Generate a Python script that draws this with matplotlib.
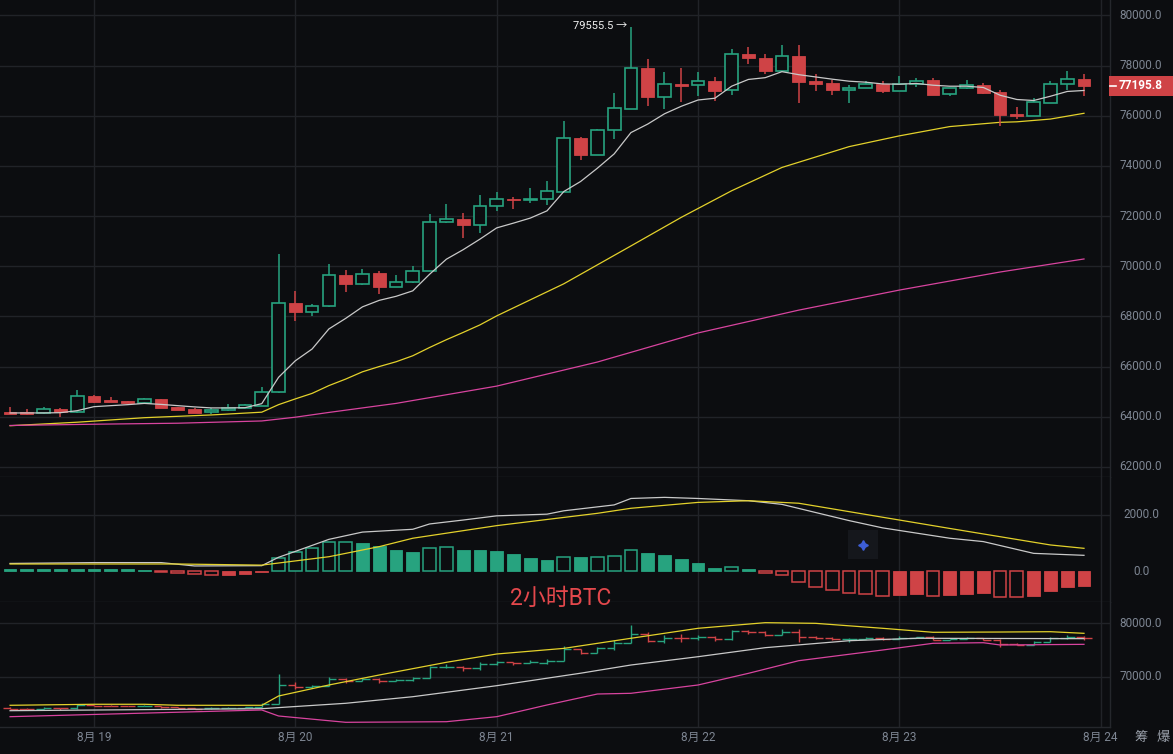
import numpy as np
import matplotlib
matplotlib.use('Agg')
import matplotlib.pyplot as plt
from matplotlib.patches import Rectangle
from matplotlib.transforms import blended_transform_factory

plt.rcParams['font.family'] = ['Roboto', 'Noto Sans CJK SC', 'DejaVu Sans']

# 2h candles, first one 8/18 14:00, last one 8/23 22:00
opens = [64170, 64150, 64130, 64300, 64170, 64820, 64660, 64620, 64560, 64700,
         64390, 64300, 64170, 64250, 64350, 64440, 64970, 68520, 68160, 68400,
         69670, 69300, 69720, 69190, 69390, 69830, 71780, 71900, 71660, 72410,
         72690, 72630, 72680, 72980, 75120, 74450, 75430, 76290, 77900, 76740,
         77270, 77210, 77390, 77010, 78480, 78320, 77770, 78400, 77370, 77300,
         77030, 77110, 77280, 76990, 77280, 77420, 76850, 77090, 77220, 76930,
         76070, 76000, 76530, 77280, 77480]
highs = [64400, 64300, 64370, 64330, 65060, 64880, 64790, 64640, 64760, 64720,
         64400, 64330, 64360, 64500, 64500, 65180, 70490, 69000, 68490, 70070,
         69840, 69880, 69810, 69670, 69990, 72100, 72500, 72110, 72860, 72970,
         72780, 73120, 73390, 75800, 75150, 75490, 76910, 79555.5, 78270, 77750,
         77900, 77750, 77560, 78660, 78760, 78480, 78840, 78820, 77680, 77420,
         77220, 77390, 77390, 77590, 77500, 77520, 77120, 77430, 77300, 77040,
         76370, 76690, 77400, 77780, 77660]
lows = [64100, 64080, 64100, 63980, 64150, 64560, 64580, 64540, 64540, 64350,
        64250, 64140, 64120, 64230, 64330, 64420, 64950, 67830, 68020, 68380,
        68980, 69260, 68900, 69180, 69350, 69800, 71720, 71130, 71340, 72190,
        72290, 72520, 72460, 72970, 74230, 74440, 75090, 76270, 76400, 76260,
        76560, 76790, 76610, 76840, 78050, 77650, 77750, 76520, 76980, 76840,
        76510, 77090, 76900, 76980, 77140, 76820, 76790, 77060, 76850, 75600,
        75870, 75990, 76500, 77010, 76770]
closes = [64130, 64120, 64300, 64170, 64810, 64580, 64600, 64560, 64700, 64360,
          64280, 64160, 64250, 64350, 64450, 64970, 68520, 68160, 68400, 69670,
          69300, 69710, 69180, 69390, 69830, 71780, 71900, 71640, 72410, 72690,
          72630, 72690, 73000, 75110, 74450, 75430, 76300, 77900, 76730, 77270,
          77210, 77390, 77000, 78460, 78300, 77770, 78380, 77340, 77270, 77020,
          77100, 77280, 76990, 77280, 77400, 76840, 77090, 77220, 76910, 76020,
          75990, 76550, 77280, 77480, 77195.8]

# moving averages
ma7 = [64150, 64150, 64150, 64160, 64240, 64400, 64440, 64480, 64530, 64490,
       64440, 64390, 64350, 64350, 64360, 64520, 65570, 66230, 66700, 67500,
       67920, 68380, 68640, 68800, 69020, 69680, 70280, 70660, 71080, 71530,
       71720, 71920, 72210, 72980, 73380, 73910, 74480, 75330, 75670, 76080,
       76380, 76630, 76700, 77180, 77450, 77520, 77760, 77640, 77550, 77460,
       77380, 77340, 77270, 77260, 77290, 77220, 77180, 77180, 77130, 76820,
       76650, 76610, 76780, 76970, 77010]
ma25_idx = [0, 4, 8, 12, 15, 16, 17, 18, 19, 20, 21, 22, 23, 24, 25, 26, 27, 28,
            29, 33, 37, 40, 43, 46, 50, 53, 56, 59, 60, 62, 64]
ma25_val = [63640, 63780, 63960, 64070, 64180, 64480, 64710, 64930, 65240, 65500,
            65790, 66000, 66190, 66430, 66760, 67070, 67360, 67660, 68020, 69300,
            70810, 71950, 73010, 73940, 74770, 75200, 75570, 75740, 75760, 75870,
            76100]
ma99_idx = [0, 5, 10, 15, 17, 19, 23, 29, 35, 41, 47, 53, 59, 64]
ma99_val = [63650, 63700, 63740, 63830, 63980, 64170, 64530, 65220, 66180, 67340,
            68250, 69050, 69770, 70290]

# MACD
hist = [60, 60, 60, 60, 60, 60, 60, 60, 50, -30,
        -70, -100, -140, -140, -110, -40, 450, 690, 810, 1020,
        1030, 1010, 890, 750, 670, 810, 850, 750, 740, 710,
        600, 460, 390, 510, 490, 510, 550, 750, 630, 560,
        430, 270, 110, 130, 70, -80, -150, -390, -560, -680,
        -800, -830, -880, -870, -830, -880, -870, -810, -800, -920,
        -940, -880, -700, -560, -520]
dif_idx = [0, 5, 9, 11, 15, 16, 17, 19, 21, 24, 25, 27, 29, 32, 33, 36, 37, 39,
           41, 44, 46, 50, 52, 56, 58, 61, 64]
dif_val = [270, 300, 300, 180, 190, 490, 700, 1130, 1390, 1490, 1680, 1820, 1970,
           2030, 2150, 2360, 2590, 2630, 2590, 2510, 2380, 1800, 1540, 1170, 1050,
           630, 560]
dea_idx = [0, 10, 15, 19, 22, 24, 29, 35, 37, 41, 44, 47, 53, 56, 62, 64]
dea_val = [250, 250, 210, 510, 870, 1170, 1620, 2060, 2240, 2450, 2510, 2420,
           1820, 1520, 930, 810]

# lower panel bands
up_idx = [0, 5, 8, 10, 15, 16, 19, 22, 26, 29, 33, 37, 41, 45, 48, 52, 55, 59, 62, 64]
up_val = [64760, 64950, 64950, 64760, 64760, 66480, 68520, 70370, 72720, 74260,
          75300, 77170, 79020, 80060, 79940, 79020, 78280, 78330, 78390, 78090]
mid_idx = [0, 15, 20, 24, 29, 34, 37, 41, 45, 50, 54, 64]
mid_val = [63760, 64130, 65130, 66350, 68390, 70700, 72220, 73760, 75430, 76720,
           77170, 77100]
lo_idx = [0, 15, 16, 20, 26, 29, 32, 35, 37, 41, 44, 47, 52, 55, 58, 59, 64]
lo_val = [62650, 63890, 62780, 61610, 61720, 62650, 64820, 66850, 66980, 68520,
          70680, 73020, 75000, 76240, 76350, 75930, 76050]

day_labels = ['8月 19', '8月 20', '8月 21', '8月 22', '8月 23', '8月 24']
first_hour = 14
high_label = '79555.5 →'
title = '2小时BTC'

BG = '#0c0d10'
GRID = '#212328'
UP = '#27a37f'
DOWN = '#cf4346'
TXT = '#7d8592'
LW = 0.9
W = 1173
H = 754

n = len(closes)
x = np.arange(n)
day_pos = [(24 - first_hour) // 2 + 12 * k for k in range(len(day_labels))]

fig = plt.figure(figsize=(W / 100, H / 100), dpi=100, facecolor=BG)


def fpos(top, bottom):
    return [0, 1 - bottom / H, 1110 / W, (bottom - top) / H]


ax1 = fig.add_axes(fpos(0, 477))
ax2 = fig.add_axes(fpos(477, 602))
ax3 = fig.add_axes(fpos(602, 727))

for ax in (ax1, ax2, ax3):
    ax.set_facecolor(BG)
    ax.set_xlim(-0.6, 65.55)
    ax.set_xticks([])
    ax.set_yticks([])
    for s in ('top', 'left'):
        ax.spines[s].set_visible(False)
    for s in ('bottom', 'right'):
        ax.spines[s].set_color('#25272c')
        ax.spines[s].set_linewidth(1)
    for d in day_pos:
        ax.axvline(d, color=GRID, lw=1, zorder=0)

ax1.set_ylim(61595, 80618)
ax2.set_ylim(-1107, 3357)
ax3.set_ylim(60740, 83890)


def right_label(ax, v, txt):
    tr = blended_transform_factory(ax.transAxes, ax.transData)
    ax.text(1141 / 1110, v, txt, transform=tr, ha='center', va='center',
            color=TXT, fontsize=8.5, clip_on=False)


main_ticks = list(range(62000, 80001, 2000))
for v in main_ticks:
    ax1.axhline(v, color=GRID, lw=1, zorder=0)
    right_label(ax1, v, f'{v:.1f}')
ax2.axhline(2000, color=GRID, lw=1, zorder=0)
right_label(ax2, 2000, '2000.0')
right_label(ax2, 0, '0.0')
for v in (70000, 80000):
    ax3.axhline(v, color=GRID, lw=1, zorder=0)
    right_label(ax3, v, f'{v:.1f}')

# candles
bw = 0.76
min_h = 70
for i in range(n):
    o, hi, lo, c = opens[i], highs[i], lows[i], closes[i]
    b0, b1 = min(o, c), max(o, c)
    if b1 - b0 < min_h:
        m = (o + c) / 2
        b0, b1 = m - min_h / 2, m + min_h / 2
    if c >= o:
        ax1.vlines(i, b1, hi, color=UP, lw=1.1, zorder=3)
        ax1.vlines(i, lo, b0, color=UP, lw=1.1, zorder=3)
        ax1.add_patch(Rectangle((i - bw / 2, b0), bw, b1 - b0, facecolor=BG,
                                edgecolor=UP, lw=1.2, zorder=3))
    else:
        ax1.vlines(i, lo, hi, color=DOWN, lw=1.1, zorder=3)
        ax1.add_patch(Rectangle((i - bw / 2, b0), bw, b1 - b0, facecolor=DOWN,
                                edgecolor=DOWN, lw=0.6, zorder=3))

ax1.plot(x, ma7, color='#c9c9c9', lw=LW, zorder=4)
ax1.plot(ma25_idx, ma25_val, color='#e3d12b', lw=LW, zorder=2)
ax1.plot(ma99_idx, ma99_val, color='#d8449f', lw=LW, zorder=2)

top_i = int(np.argmax(highs))
ax1.text(top_i - 0.2, highs[top_i] + 30, high_label, ha='right', va='center',
         color='#f2f2f2', fontsize=8)

# last price tag
last = closes[-1]
tr1 = blended_transform_factory(ax1.transAxes, ax1.transData)
ax1.add_patch(Rectangle((1109 / 1110, last - 400), 64 / 1110, 800, transform=tr1,
                        facecolor=DOWN, edgecolor='none', clip_on=False, zorder=5))
ax1.plot([1110 / 1110, 1116 / 1110], [last, last], transform=tr1, color='white',
         lw=1.2, clip_on=False, zorder=6)
ax1.text(1141 / 1110, last, f'{last:.1f}', transform=tr1, ha='center', va='center',
         color='white', fontsize=8.5, fontweight='bold', clip_on=False, zorder=6)

# MACD histogram
hist = np.array(hist, dtype=float)
prev = np.r_[hist[0], hist[:-1]]
hollow = np.where(hist >= 0, hist > prev, hist < prev)
for i in range(n):
    col = UP if hist[i] >= 0 else DOWN
    if hollow[i]:
        ax2.add_patch(Rectangle((i - bw / 2, 0), bw, hist[i], facecolor=BG,
                                edgecolor=col, lw=1.1, zorder=3))
    else:
        ax2.add_patch(Rectangle((i - bw / 2, 0), bw, hist[i], facecolor=col,
                                edgecolor=col, lw=0.6, zorder=3))
ax2.plot(dif_idx, dif_val, color='#c9c9c9', lw=LW, zorder=4)
ax2.plot(dea_idx, dea_val, color='#e3d12b', lw=LW, zorder=4)

# lower panel: ohlc bars and bands
for i in range(n):
    col = UP if closes[i] >= opens[i] else DOWN
    ax3.vlines(i, lows[i], highs[i], color=col, lw=1.0, zorder=3)
    ax3.hlines(opens[i], i - 0.45, i, color=col, lw=1.0, zorder=3)
    ax3.hlines(closes[i], i, i + 0.45, color=col, lw=1.0, zorder=3)
ax3.plot(up_idx, up_val, color='#e3d12b', lw=LW, zorder=4)
ax3.plot(mid_idx, mid_val, color='#c9c9c9', lw=LW, zorder=4)
ax3.plot(lo_idx, lo_val, color='#d8449f', lw=LW, zorder=4)


def fx(px, py):
    return px / W, 1 - py / H


# date labels
for d, lab in zip(day_pos, day_labels):
    xp = 10 + d * 16.78
    fig.text(*fx(xp, 737), lab, ha='center', va='center', color=TXT, fontsize=8.5)
fig.text(*fx(1141, 738), '筹', ha='center', va='center', color='#9aa0aa', fontsize=9.5)
fig.text(*fx(1163, 738), '爆', ha='center', va='center', color='#9aa0aa', fontsize=9.5)

# title in the indicator panel
fig.text(*fx(561, 598), title, ha='center', va='center', color='#e4484c', fontsize=16.5)

# small marker box
fig.patches.append(Rectangle(fx(848, 559), 30 / W, 29 / H, transform=fig.transFigure,
                             facecolor='#15171c', edgecolor='none'))
fig.lines.append(plt.Line2D([863 / W], [1 - 545 / H], transform=fig.transFigure,
                            marker=(4, 1, 0), markersize=7, color='#3d5fd8', lw=0))

fig.savefig('out.png', dpi=100, facecolor=BG)
